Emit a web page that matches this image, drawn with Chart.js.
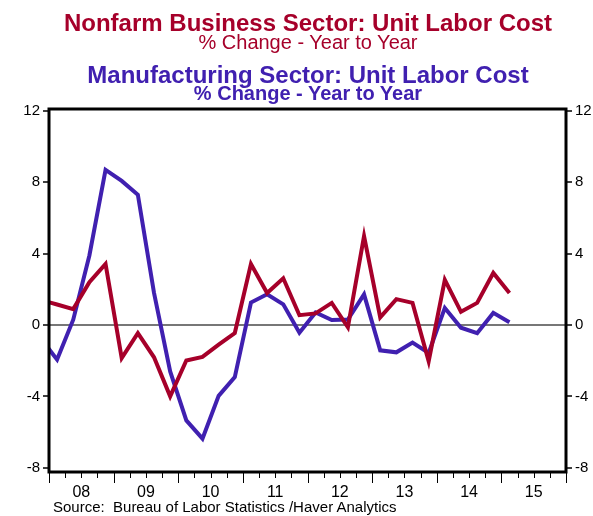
<!DOCTYPE html>
<html>
<head>
<meta charset="utf-8">
<script src="https://cdn.jsdelivr.net/npm/chart.js"></script>
<style>
body { margin: 0; background: #fff; }
#wrap { position: relative; width: 593px; height: 516px; font-family: "Liberation Sans", Arial, sans-serif; }
#chart { position: absolute; left: 0; top: 0; }
.t { position: absolute; left: 0; width: 616px; text-align: center; white-space: nowrap; }
.src { position: absolute; left: 53px; top: 499px; font: 15px/15px "Liberation Sans", Arial, sans-serif; color: #000; white-space: nowrap; }
</style>
</head>
<body>
<div id="wrap">
<canvas id="chart" width="593" height="516"></canvas>
<div class="t" style="top:11px; font:bold 24px/24px 'Liberation Sans', Arial, sans-serif; color:#a6002a">Nonfarm Business Sector: Unit Labor Cost</div>
<div class="t" style="top:32px; font:20px/20px 'Liberation Sans', Arial, sans-serif; color:#a6002a">% Change - Year to Year</div>
<div class="t" style="top:63px; font:bold 24px/24px 'Liberation Sans', Arial, sans-serif; color:#4020b0">Manufacturing Sector: Unit Labor Cost</div>
<div class="t" style="top:83px; font:bold 20px/20px 'Liberation Sans', Arial, sans-serif; color:#4020b0">% Change - Year to Year</div>
<div class="src">Source:&nbsp; Bureau of Labor Statistics /Haver Analytics</div>
</div>
<script>
// quarterly, % change year to year
const quarters = ['2007Q4',
    '2008Q1','2008Q2','2008Q3','2008Q4',
    '2009Q1','2009Q2','2009Q3','2009Q4',
    '2010Q1','2010Q2','2010Q3','2010Q4',
    '2011Q1','2011Q2','2011Q3','2011Q4',
    '2012Q1','2012Q2','2012Q3','2012Q4',
    '2013Q1','2013Q2','2013Q3','2013Q4',
    '2014Q1','2014Q2','2014Q3','2014Q4',
    '2015Q1'];
const nonfarm = [1.40,
    1.15, 0.89, 2.40, 3.42,
    -1.85, -0.46, -1.81, -4.00,
    -1.99, -1.79, -1.10, -0.45,
    3.42, 1.79, 2.62, 0.55,
    0.65, 1.24, -0.13, 4.98,
    0.43, 1.45, 1.24, -2.03,
    2.53, 0.74, 1.24, 2.92,
    1.79];
const manufacturing = [-0.76,
    -1.94, 0.30, 3.90, 8.70,
    8.08, 7.30, 1.80, -2.60,
    -5.35, -6.37, -3.97, -2.92,
    1.26, 1.72, 1.16, -0.43,
    0.70, 0.28, 0.31, 1.72,
    -1.42, -1.53, -0.98, -1.57,
    0.96, -0.15, -0.46, 0.68,
    0.15];
const yTicks = [-8, -4, 0, 4, 8, 12];
const yearLabels = ['08','09','10','11','12','13','14','15'];
const firstYear = 2008;

const red = '#a6002a';
const purple = '#4020b0';

// '2008Q1' -> middle of the quarter on a year axis
function quarterPos(q) {
    const y = +q.slice(0, 4), n = +q.slice(5);
    return y + (n - 0.5) / 4;
}
function points(vals) {
    return vals.map((v, i) => ({x: quarterPos(quarters[i]), y: v}));
}

const frame = {
    id: 'frame',
    afterDraw(chart) {
        const ctx = chart.ctx, a = chart.chartArea, xs = chart.scales.x;
        ctx.save();
        ctx.strokeStyle = '#000';
        ctx.lineWidth = 1;
        for (let i = 0; i <= yearLabels.length * 4; i++) {
            const v = firstYear + i / 4;
            const px = Math.round(xs.getPixelForValue(v)) + 0.5;
            const len = (i % 4 === 0) ? 11 : 6;
            ctx.beginPath();
            ctx.moveTo(px, a.bottom + 1);
            ctx.lineTo(px, a.bottom + len);
            ctx.stroke();
        }
        ctx.lineWidth = 3;
        ctx.strokeRect(a.left, a.top, a.right - a.left, a.bottom - a.top);
        ctx.restore();
    }
};

const yAxis = (pos, zero) => ({
    type: 'linear',
    position: pos,
    min: -8.24,
    max: 12.11,
    afterBuildTicks: s => { s.ticks = yTicks.map(v => ({value: v})); },
    afterFit: s => { s.width = pos === 'left' ? 49 : 27; },
    border: {display: false},
    grid: {
        drawOnChartArea: zero,
        color: c => c.tick && c.tick.value === 0 ? '#777' : 'rgba(0,0,0,0)',
        lineWidth: 2,
        tickColor: '#000',
        tickWidth: 1.5,
        tickLength: 6
    },
    ticks: {
        color: '#000',
        padding: 3,
        font: {family: 'Liberation Sans', size: 15}
    }
});

new Chart(document.getElementById('chart'), {
    type: 'line',
    data: {
        datasets: [{
            data: points(nonfarm),
            borderColor: red,
            backgroundColor: red,
            borderWidth: 4,
            clip: 0
        }, {
            data: points(manufacturing),
            borderColor: purple,
            backgroundColor: purple,
            borderWidth: 4,
            clip: 0
        }]
    },
    options: {
        responsive: false,
        devicePixelRatio: 1,
        animation: false,
        layout: {padding: {top: 109, left: 0, right: 0, bottom: 0}},
        elements: {
            point: {radius: 0},
            line: {tension: 0, borderJoinStyle: 'miter', borderCapStyle: 'butt'}
        },
        scales: {
            x: {
                type: 'linear',
                min: firstYear,
                max: firstYear + yearLabels.length,
                afterBuildTicks: s => {
                    s.ticks = [];
                    for (let i = 0; i <= yearLabels.length * 4; i++) s.ticks.push({value: firstYear + i / 4});
                },
                afterFit: s => { s.height = 44; },
                border: {display: false},
                grid: {display: false},
                ticks: {
                    autoSkip: false,
                    maxRotation: 0,
                    padding: 3,
                    color: '#000',
                    font: {family: 'Liberation Sans', size: 16},
                    callback: v => (v - Math.floor(v) === 0.5) ? yearLabels[Math.floor(v) - firstYear] : ''
                }
            },
            y: yAxis('left', true),
            y2: yAxis('right', false)
        },
        plugins: {
            legend: {display: false},
            tooltip: {enabled: false}
        }
    },
    plugins: [frame]
});
</script>
</body>
</html>
